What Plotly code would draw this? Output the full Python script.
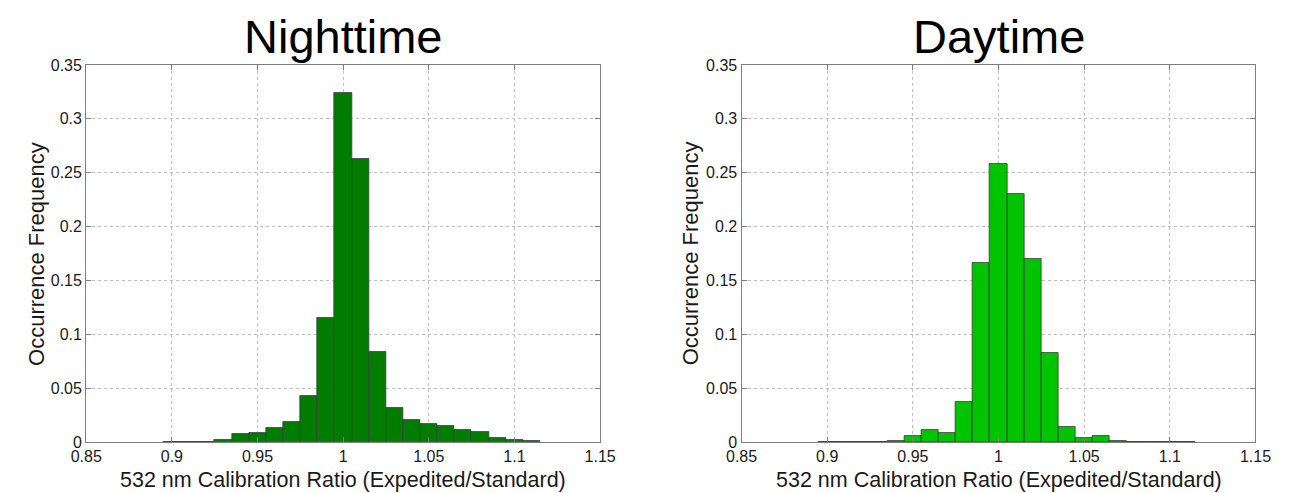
import plotly.graph_objects as go

# ---- data ----
bin_centers = [0.90, 0.91, 0.92, 0.93, 0.94, 0.95, 0.96, 0.97, 0.98, 0.99, 1.00,
               1.01, 1.02, 1.03, 1.04, 1.05, 1.06, 1.07, 1.08, 1.09, 1.10, 1.11]
night_freq = [0.0003, 0.0003, 0.0004, 0.002, 0.007, 0.008, 0.013, 0.019, 0.043, 0.115, 0.324,
              0.263, 0.084, 0.032, 0.020, 0.017, 0.015, 0.0115, 0.009, 0.004, 0.002, 0.001]
day_freq = [0.0, 0.0, 0.0, 0.0, 0.001, 0.006, 0.011, 0.008, 0.037, 0.166, 0.258,
            0.230, 0.170, 0.083, 0.014, 0.0033, 0.006, 0.001, 0.0003, 0.0003, 0.0003, 0.0003]
x_ticks = [0.85, 0.90, 0.95, 1.00, 1.05, 1.10, 1.15]
x_ticklabels = ["0.85", "0.9", "0.95", "1", "1.05", "1.1", "1.15"]
y_ticks = [0, 0.05, 0.10, 0.15, 0.20, 0.25, 0.30, 0.35]
y_ticklabels = ["0", "0.05", "0.1", "0.15", "0.2", "0.25", "0.3", "0.35"]
titles = ["Nighttime", "Daytime"]
x_title = "532 nm Calibration Ratio (Expedited/Standard)"
y_title = "Occurrence Frequency"

W, H = 1290, 493
FONT = "Liberation Sans, Arial, sans-serif"

# plot-area pixel boxes
left_box = (72, 599)
right_box = (744, 1271)
top_px, bot_px = 59, 449.5

def px2x(p):
    return p / W

def px2y(p):
    return (H - p) / H

fig = go.Figure()
fig.add_trace(go.Bar(x=bin_centers, y=night_freq, width=0.01,
                     marker=dict(color="rgb(0,125,0)", line=dict(color="#3a3a3a", width=0.8)),
                     xaxis="x", yaxis="y", showlegend=False))
fig.add_trace(go.Bar(x=bin_centers, y=day_freq, width=0.01,
                     marker=dict(color="rgb(0,196,0)", line=dict(color="#3a3a3a", width=0.8)),
                     xaxis="x2", yaxis="y2", showlegend=False))

common_x = dict(range=[0.85, 1.15], tickmode="array", tickvals=x_ticks, ticktext=x_ticklabels,
                showgrid=True, gridcolor="#c0c0c0", griddash="dot", gridwidth=1,
                showline=True, linecolor="#7f7f7f", linewidth=1.2, mirror="ticks",
                ticks="inside", ticklen=5, tickcolor="#7f7f7f", ticklabelstandoff=0,
                tickfont=dict(family=FONT, size=16, color="#1a1a1a"), zeroline=False,
                fixedrange=True)
common_y = dict(range=[0, 0.35], tickmode="array", tickvals=y_ticks, ticktext=y_ticklabels,
                showgrid=True, gridcolor="#c0c0c0", griddash="dot", gridwidth=1,
                showline=True, linecolor="#7f7f7f", linewidth=1.2, mirror="ticks",
                ticks="inside", ticklen=5, tickcolor="#7f7f7f",
                tickfont=dict(family=FONT, size=16, color="#1a1a1a"), zeroline=False,
                fixedrange=True)

ydom = [px2y(bot_px), px2y(top_px)]
fig.update_layout(
    width=W, height=H, margin=dict(l=0, r=0, t=0, b=0),
    paper_bgcolor="white", plot_bgcolor="white", bargap=0,
    xaxis=dict(domain=[px2x(left_box[0]), px2x(left_box[1])], anchor="y", **common_x),
    yaxis=dict(domain=ydom, anchor="x", **common_y),
    xaxis2=dict(domain=[px2x(right_box[0]), px2x(right_box[1])], anchor="y2", **common_x),
    yaxis2=dict(domain=ydom, anchor="x2", **common_y),
)

annots = []
for box, t, ytx in [(left_box, titles[0], 21), (right_box, titles[1], 692)]:
    cx = px2x((box[0] + box[1]) / 2)
    annots.append(dict(text=t, x=cx, y=px2y(30), xref="paper", yref="paper",
                       xanchor="center", yanchor="middle", showarrow=False,
                       font=dict(family=FONT, size=47, color="black")))
    annots.append(dict(text=x_title, x=cx, y=px2y(489), xref="paper", yref="paper",
                       xanchor="center", yanchor="middle", showarrow=False,
                       font=dict(family=FONT, size=21.5, color="#1a1a1a")))
    annots.append(dict(text=y_title, x=px2x(ytx), y=px2y((top_px + bot_px) / 2),
                       xref="paper", yref="paper", textangle=-90,
                       xanchor="center", yanchor="middle", showarrow=False,
                       font=dict(family=FONT, size=22, color="#1a1a1a")))
fig.update_layout(annotations=annots)

fig.write_html("out.html")
